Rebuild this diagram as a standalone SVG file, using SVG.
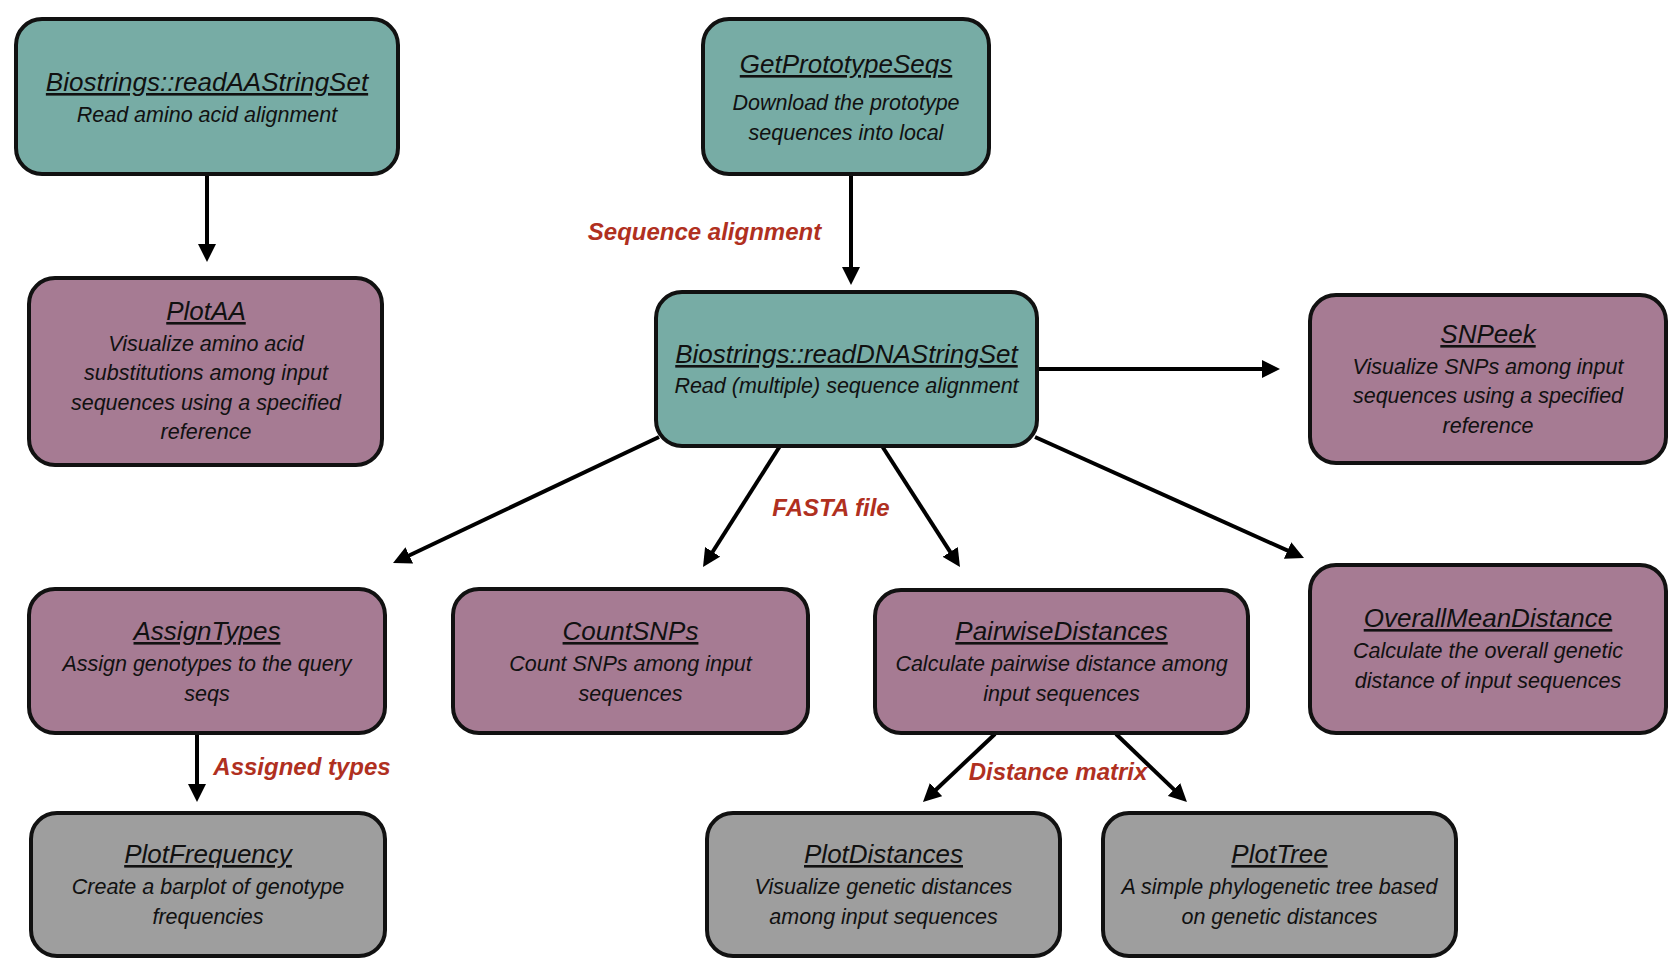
<svg xmlns="http://www.w3.org/2000/svg" width="1680" height="970" viewBox="0 0 1680 970">
<defs>
<style>
.box{stroke:#111;stroke-width:4}
.teal{fill:#77aca5}
.purple{fill:#a67b93}
.gray{fill:#9e9e9e}
.t{font-family:"Liberation Sans",Arial,sans-serif;font-style:italic;font-size:26px;fill:#111;text-anchor:middle;text-decoration:underline}
.s{font-family:"Liberation Sans",Arial,sans-serif;font-style:italic;font-size:21.5px;fill:#111;text-anchor:middle}
.lbl{font-family:"Liberation Sans",Arial,sans-serif;font-style:italic;font-weight:bold;font-size:24px;fill:#b0301f;text-anchor:middle}
.c{stroke:#000;stroke-width:4;fill:none;marker-end:url(#ah)}
</style>
<marker id="ah" markerUnits="userSpaceOnUse" markerWidth="18" markerHeight="18" viewBox="0 0 18 18" refX="2" refY="9" orient="auto">
<path d="M0,0 L18,9 L0,18 z" fill="#000"/>
</marker>
</defs>
<rect width="1680" height="970" fill="#fff"/>
<g id="connectors">
<line class="c" x1="207" y1="174" x2="207" y2="246"/>
<line class="c" x1="851" y1="174" x2="851" y2="269"/>
<line class="c" x1="1037" y1="369" x2="1264" y2="369"/>
<line class="c" x1="659" y1="437" x2="407.5" y2="556.2"/>
<line class="c" x1="780" y1="446" x2="711.6" y2="553.5"/>
<line class="c" x1="882" y1="446" x2="951.3" y2="553.6"/>
<line class="c" x1="1035" y1="437" x2="1289.4" y2="551.4"/>
<line class="c" x1="197" y1="733" x2="197" y2="786"/>
<line class="c" x1="995" y1="734" x2="934.6" y2="791"/>
<line class="c" x1="1116" y1="734" x2="1175.4" y2="790.9"/>
</g>
<g id="labels">
<text class="lbl" x="704.5" y="240">Sequence alignment</text>
<text class="lbl" x="831" y="516">FASTA file</text>
<text class="lbl" x="302" y="775">Assigned types</text>
<text class="lbl" x="1058" y="780">Distance matrix</text>
</g>
<g id="readAA">
<rect class="box teal" x="16" y="19" width="382" height="155" rx="26"/>
<text class="t" x="207" y="91">Biostrings::readAAStringSet</text>
<text class="s" x="207" y="122">Read amino acid alignment</text>
</g>
<g id="getProto">
<rect class="box teal" x="703" y="19" width="286" height="155" rx="26"/>
<text class="t" x="846" y="73">GetPrototypeSeqs</text>
<text class="s" x="846" y="110">Download the prototype</text>
<text class="s" x="846" y="140">sequences into local</text>
</g>
<g id="plotAA">
<rect class="box purple" x="29" y="278" width="353" height="187" rx="26"/>
<text class="t" x="206" y="320">PlotAA</text>
<text class="s" x="206" y="351">Visualize amino acid</text>
<text class="s" x="206" y="380">substitutions among input</text>
<text class="s" x="206" y="409.5">sequences using a specified</text>
<text class="s" x="206" y="439">reference</text>
</g>
<g id="readDNA">
<rect class="box teal" x="656" y="292" width="381" height="154" rx="26"/>
<text class="t" x="846.5" y="363">Biostrings::readDNAStringSet</text>
<text class="s" x="846.5" y="393">Read (multiple) sequence alignment</text>
</g>
<g id="snpeek">
<rect class="box purple" x="1310" y="295" width="356" height="168" rx="26"/>
<text class="t" x="1488" y="343">SNPeek</text>
<text class="s" x="1488" y="373.5">Visualize SNPs among input</text>
<text class="s" x="1488" y="403">sequences using a specified</text>
<text class="s" x="1488" y="432.5">reference</text>
</g>
<g id="assignTypes">
<rect class="box purple" x="29" y="589" width="356" height="144" rx="26"/>
<text class="t" x="207" y="640">AssignTypes</text>
<text class="s" x="207" y="671">Assign genotypes to the query</text>
<text class="s" x="207" y="701">seqs</text>
</g>
<g id="countSNPs">
<rect class="box purple" x="453" y="589" width="355" height="144" rx="26"/>
<text class="t" x="630.5" y="640">CountSNPs</text>
<text class="s" x="630.5" y="671">Count SNPs among input</text>
<text class="s" x="630.5" y="701">sequences</text>
</g>
<g id="pairwise">
<rect class="box purple" x="875" y="590" width="373" height="143" rx="26"/>
<text class="t" x="1061.5" y="640">PairwiseDistances</text>
<text class="s" x="1061.5" y="671">Calculate pairwise distance among</text>
<text class="s" x="1061.5" y="701">input sequences</text>
</g>
<g id="overallMean">
<rect class="box purple" x="1310" y="565" width="356" height="168" rx="26"/>
<text class="t" x="1488" y="627">OverallMeanDistance</text>
<text class="s" x="1488" y="658">Calculate the overall genetic</text>
<text class="s" x="1488" y="687.5">distance of input sequences</text>
</g>
<g id="plotFrequency">
<rect class="box gray" x="31" y="813" width="354" height="143" rx="26"/>
<text class="t" x="208" y="863">PlotFrequency</text>
<text class="s" x="208" y="894">Create a barplot of genotype</text>
<text class="s" x="208" y="923.5">frequencies</text>
</g>
<g id="plotDistances">
<rect class="box gray" x="707" y="813" width="353" height="143" rx="26"/>
<text class="t" x="883.5" y="863">PlotDistances</text>
<text class="s" x="883.5" y="894">Visualize genetic distances</text>
<text class="s" x="883.5" y="924">among input sequences</text>
</g>
<g id="plotTree">
<rect class="box gray" x="1103" y="813" width="353" height="143" rx="26"/>
<text class="t" x="1279.5" y="863">PlotTree</text>
<text class="s" x="1279.5" y="894">A simple phylogenetic tree based</text>
<text class="s" x="1279.5" y="924">on genetic distances</text>
</g>
</svg>
